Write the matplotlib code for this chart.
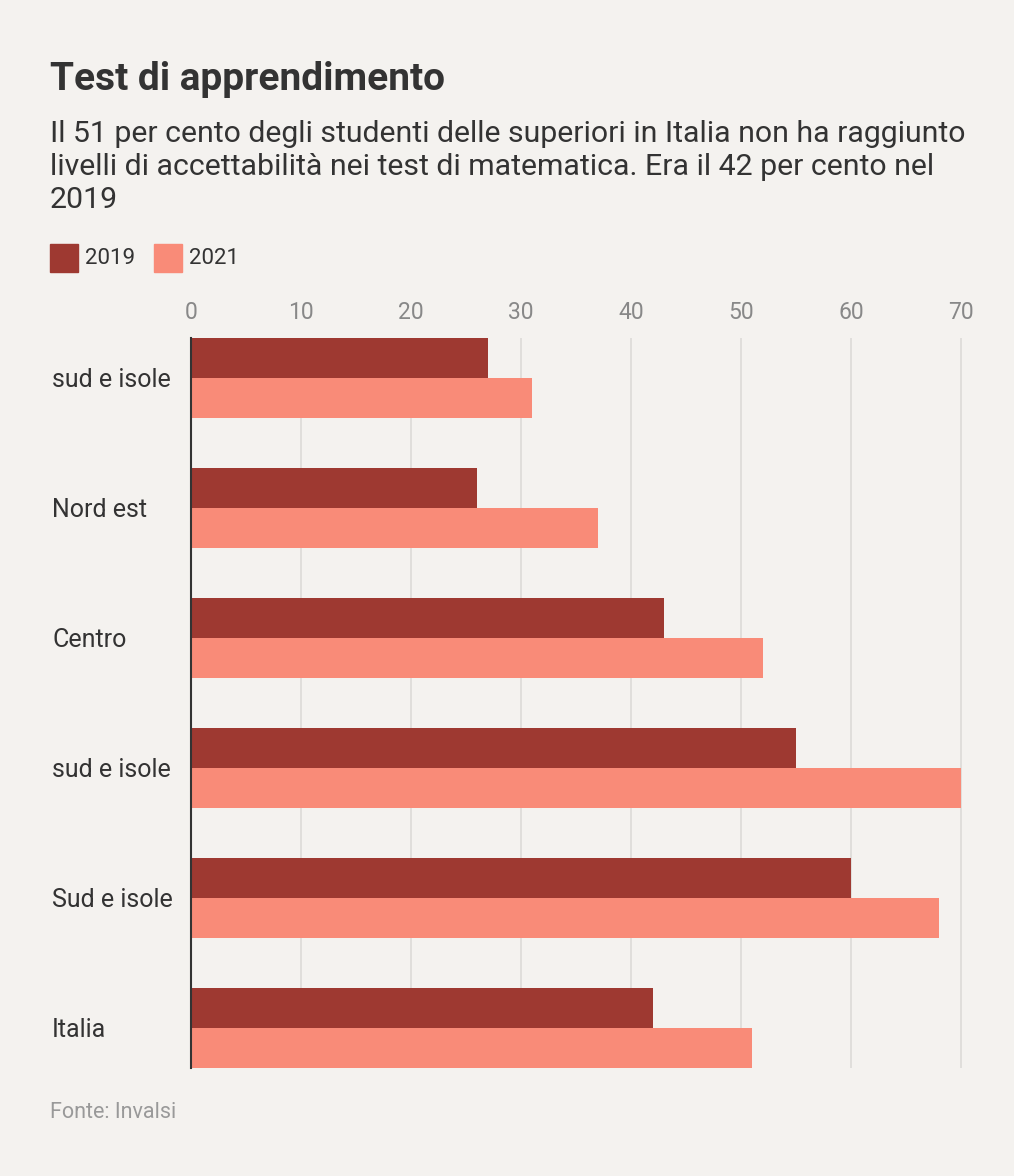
import matplotlib.pyplot as plt
from matplotlib.patches import Rectangle

plt.rcParams['font.family'] = ['Roboto', 'DejaVu Sans']

regioni = ["sud e isole", "Nord est", "Centro", "sud e isole", "Sud e isole", "Italia"]
val_2019 = [27, 26, 43, 55, 60, 42]
val_2021 = [31, 37, 52, 70, 68, 51]
ticks = [0, 10, 20, 30, 40, 50, 60, 70]

bg = "#f4f2ef"
c2019 = "#9e3931"
c2021 = "#f98b78"
txt = "#333333"
grey = "#888888"

W, H = 1014, 1176
fig = plt.figure(figsize=(W / 100, H / 100), dpi=100, facecolor=bg)

# axes: x 191..962 px, y 338..1068 px
ax = fig.add_axes([191 / W, 1 - 1068 / H, (962 - 191) / W, (1068 - 338) / H])
ax.set_facecolor(bg)

h = 40 / 130
ys = list(range(len(regioni)))
ax.barh([y - h / 2 for y in ys], val_2019, height=h, color=c2019, zorder=2)
ax.barh([y + h / 2 for y in ys], val_2021, height=h, color=c2021, zorder=2)

ax.set_xlim(0, 70.1)
ax.set_ylim(len(regioni) - 1 + h, -h)
ax.set_xticks(ticks)
ax.xaxis.tick_top()
ax.tick_params(axis='x', length=0, pad=10, labelsize=16.5, labelcolor=grey)
ax.set_yticks([])
for t in ticks[1:]:
    ax.axvline(t, color="#dddbd8", lw=1.2, zorder=1)
for s in ["top", "right", "bottom"]:
    ax.spines[s].set_visible(False)
ax.spines["left"].set_color(txt)
ax.spines["left"].set_linewidth(1.5)
ax.spines["left"].set_zorder(3)

for y, name in zip(ys, regioni):
    fig.text(52 / W, 1 - (380 + 130 * y) / H, name, fontsize=18, color=txt,
             ha='left', va='center')

fig.text(50 / W, 1 - 90 / H, "Test di apprendimento", fontsize=28, fontweight='bold',
         color=txt, ha='left', va='baseline')
sub = ["Il 51 per cento degli studenti delle superiori in Italia non ha raggiunto",
       "livelli di accettabilità nei test di matematica. Era il 42 per cento nel",
       "2019"]
for i, line in enumerate(sub):
    fig.text(50 / W, 1 - (142 + 33 * i) / H, line, fontsize=21.8, color=txt,
             ha='left', va='baseline')

# legend
for x0, col, lab in [(50, c2019, "2019"), (154, c2021, "2021")]:
    fig.patches.append(Rectangle((x0 / W, 1 - 272 / H), 28 / W, 28 / H,
                                 transform=fig.transFigure, color=col))
    fig.text((x0 + 35) / W, 1 - 258 / H, lab, fontsize=16, color=txt,
             ha='left', va='center')

fig.text(50 / W, 1 - 1112 / H, "Fonte: Invalsi", fontsize=15.5, color="#999999",
         ha='left', va='center')

fig.savefig("out.png", dpi=100, facecolor=bg)
